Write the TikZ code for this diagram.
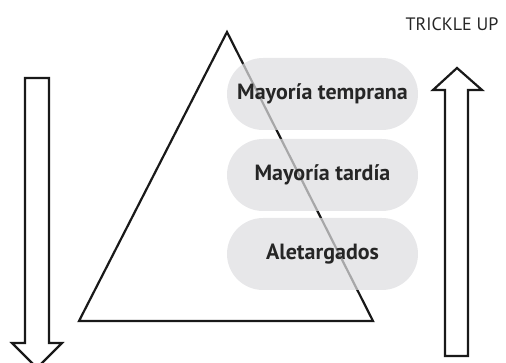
\documentclass[tikz,border=0pt]{standalone}
\usepackage{fontspec}
\setmainfont{PT Sans}
\usetikzlibrary{shapes.misc}
\begin{document}
\begin{tikzpicture}[x=1pt,y=-1pt,
  pill/.style={rounded rectangle, minimum width=191pt, minimum height=72pt,
    fill={rgb,255:red,222;green,222;blue,224}, fill opacity=0.72, text opacity=1,
    text=black!85, font=\bfseries\fontsize{22}{26}\selectfont, inner sep=0pt},
  outl/.style={draw=black!90, line width=2.2pt, line join=miter},
  tri/.style={draw=black!90, line width=2.2pt, line join=miter}]
\useasboundingbox (0,0) rectangle (506,363);
\draw[tri] (227,32) -- (373,321) -- (79,321) -- cycle;
\node[pill] (p1) at (322.5,94) {Mayoría temprana};
\node[pill] (p2) at (322.5,175) {Mayoría tardía};
\node[pill] (p3) at (322.5,254) {Aletargados};
\draw[outl] (25,78) -- (49,78) -- (49,343) -- (62,343) -- (37,368) -- (12,343) -- (25,343) -- cycle;
\draw[outl] (445,356) -- (445,90) -- (433,90) -- (457,68) -- (482,90) -- (468,90) -- (468,356) -- cycle;
\node[font=\fontsize{18}{21}\selectfont, text=black!85, inner sep=0pt] (tu) at (452,24) {TRICKLE UP};
\end{tikzpicture}
\end{document}
